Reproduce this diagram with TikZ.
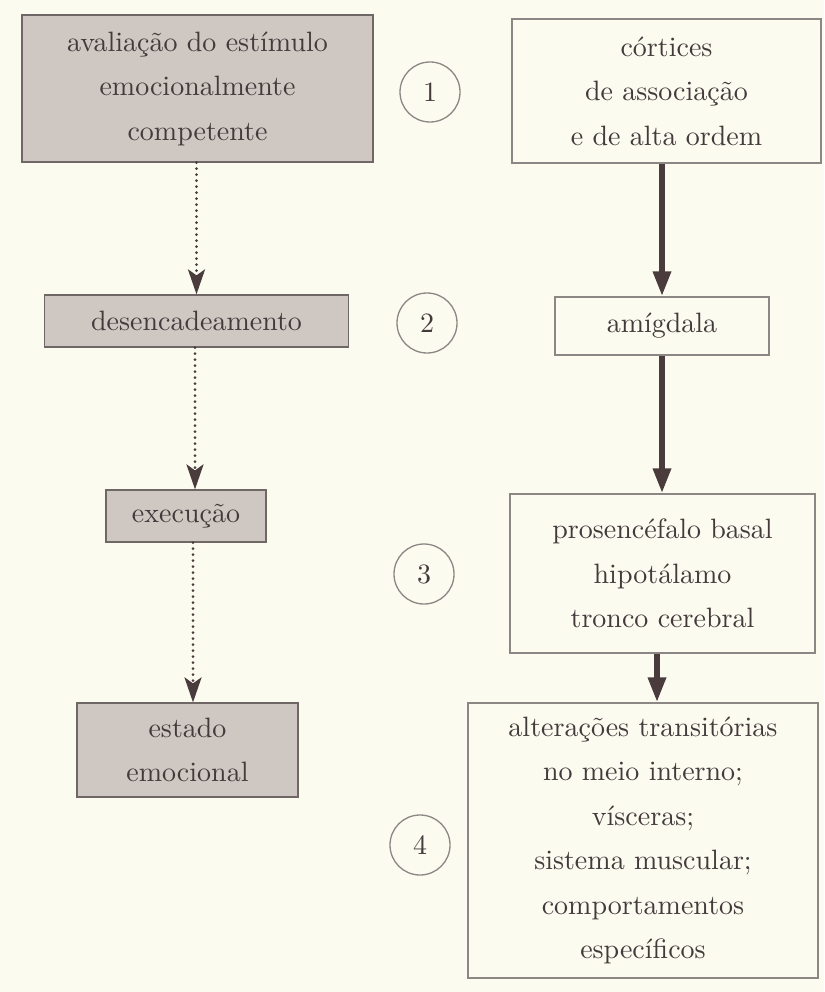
\documentclass[tikz,border=0pt]{standalone}
\usepackage{fontspec}
\setmainfont{lmroman10-regular.otf}
\usetikzlibrary{arrows.meta}
\definecolor{bgcol}{HTML}{FCFBF0}
\definecolor{boxfill}{HTML}{CEC7C2}
\definecolor{ink}{HTML}{433A3B}
\definecolor{edgedark}{HTML}{6E6766}
\definecolor{edgelight}{HTML}{8C8784}
\definecolor{arrowcol}{HTML}{4A3C3D}
\tikzset{
  graybox/.style={draw=edgedark, line width=1.2pt, fill=boxfill, inner sep=0pt, align=center,
    text=ink, font=\fontsize{28}{44.5}\selectfont},
  whitebox/.style={draw=edgelight, line width=1.2pt, inner sep=0pt, align=center,
    text=ink, font=\fontsize{28}{44.5}\selectfont},
  numcircle/.style={circle, draw=edgelight, line width=1.3pt, minimum size=60pt, inner sep=0pt,
    text=ink, font=\fontsize{28}{30}\selectfont},
  dotarrow/.style={draw=arrowcol, line width=3pt, line cap=round, dash pattern=on 0pt off 6pt,
    -{Stealth[length=25pt,width=17pt,inset=6pt]}},
  solidarrow/.style={draw=arrowcol, line width=6pt, -{Triangle[length=25pt,width=17pt]}}
}
\begin{document}
\begin{tikzpicture}[x=1pt,y=-1pt]
\path[use as bounding box, fill=bgcol] (0,0) rectangle (824,992);

% left column
\node[graybox, minimum width=351pt, minimum height=147pt] (A) at (197.5,88.5)
  {avaliação do estímulo\\emocionalmente\\competente};
\node[graybox, minimum width=304pt, minimum height=52pt] (B) at (196.5,321)
  {desencadeamento};
\node[graybox, minimum width=160pt, minimum height=52pt] (C) at (186,516)
  {execução};
\node[graybox, minimum width=221pt, minimum height=94pt] (D) at (187.5,750)
  {estado\\emocional};

% numbers
\node[numcircle] (n1) at (430,92) {1};
\node[numcircle] (n2) at (427,323) {2};
\node[numcircle] (n3) at (424,574) {3};
\node[numcircle] (n4) at (420,845) {4};

% right column
\node[whitebox, minimum width=309pt, minimum height=144pt] (R1) at (666.5,91)
  {córtices\\de associação\\e de alta ordem};
\node[whitebox, minimum width=214pt, minimum height=58pt] (R2) at (662,326)
  {amígdala};
\node[whitebox, minimum width=305pt, minimum height=159pt] (R3) at (662.5,573.5)
  {prosencéfalo basal\\hipotálamo\\tronco cerebral};
\node[whitebox, minimum width=350pt, minimum height=275pt] (R4) at (643,840.5)
  {alterações transitórias\\no meio interno;\\vísceras;\\sistema muscular;\\comportamentos\\específicos};

% dotted arrows
\coordinate (c1) at (196.5,0);
\coordinate (c2) at (195,0);
\coordinate (c3) at (193,0);
\draw[dotarrow] (A.south -| c1) -- (B.north -| c1);
\draw[dotarrow] (B.south -| c2) -- (C.north -| c2);
\draw[dotarrow] (C.south -| c3) -- (D.north -| c3);

% solid arrows
\coordinate (s1) at (662,0);
\coordinate (s3) at (657,0);
\draw[solidarrow] (R1.south -| s1) -- (R2.north -| s1);
\draw[solidarrow] (R2.south -| s1) -- (R3.north -| s1);
\draw[solidarrow] (R3.south -| s3) -- (R4.north -| s3);
\end{tikzpicture}
\end{document}
